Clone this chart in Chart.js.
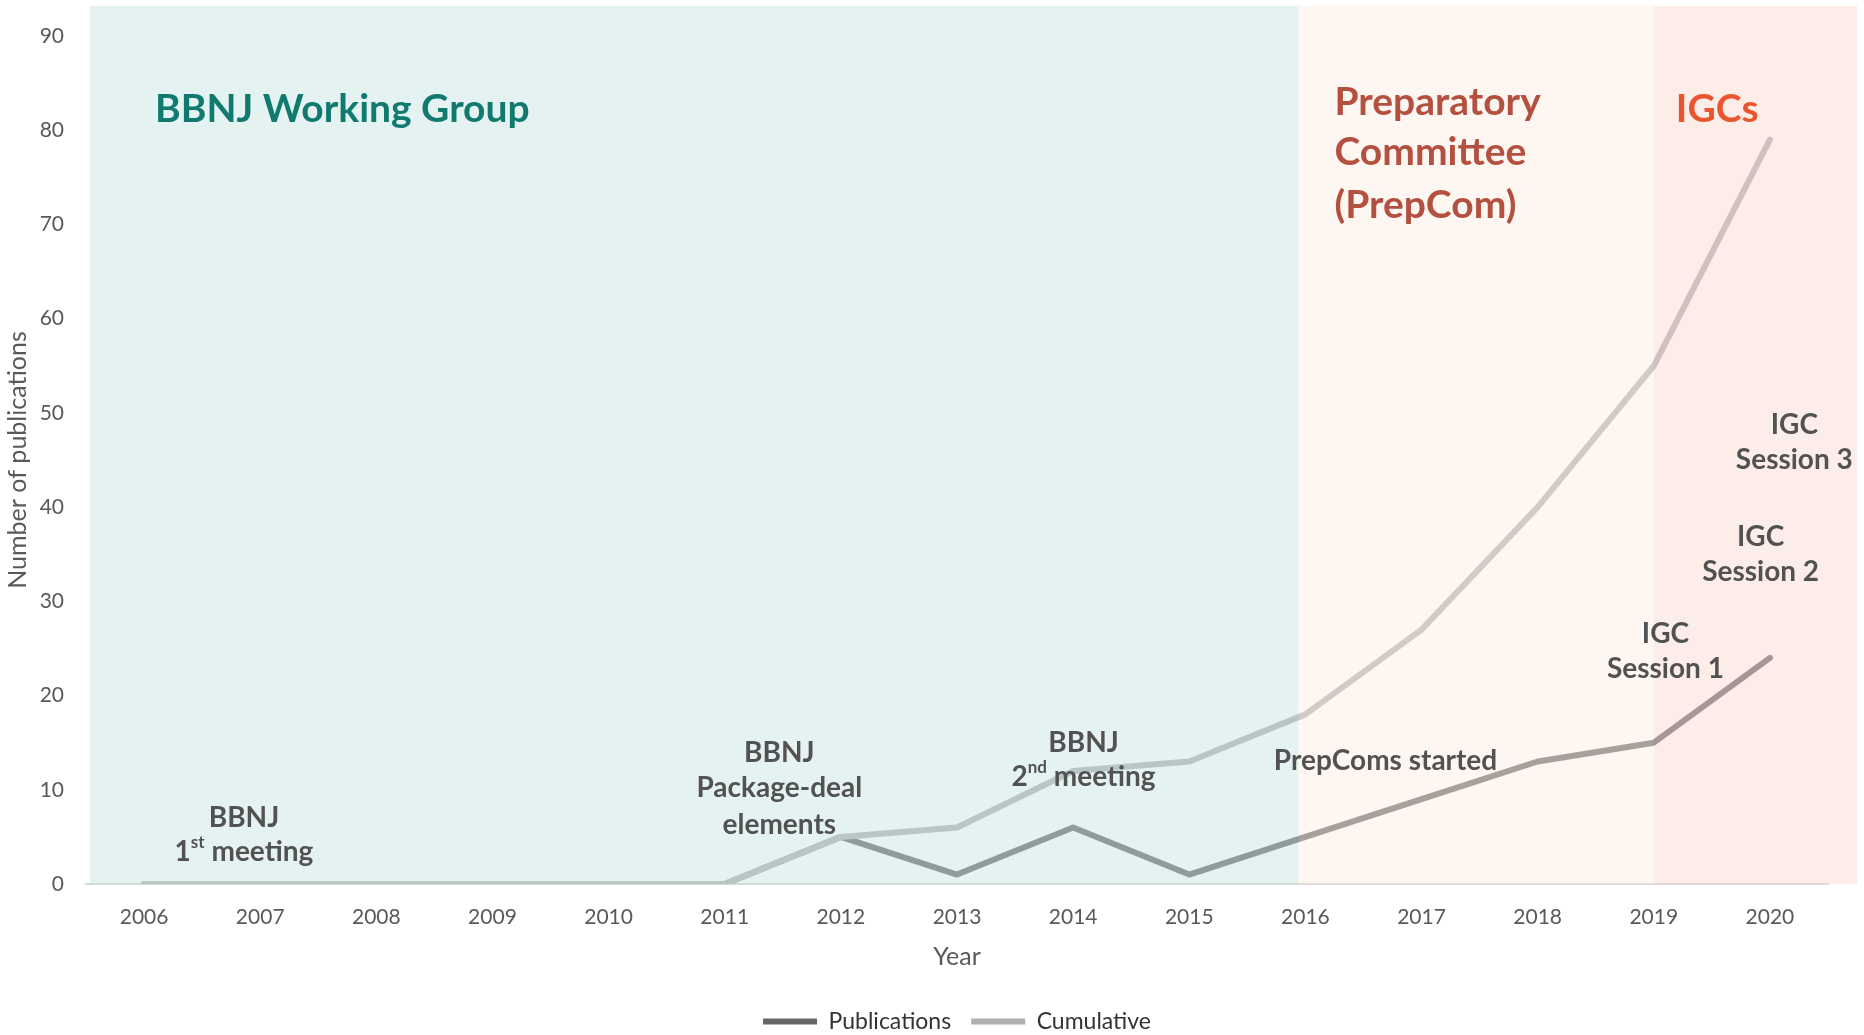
<!DOCTYPE html>
<html>
<head>
<meta charset="utf-8">
<script src="https://cdn.jsdelivr.net/npm/chart.js@4.4.1/dist/chart.umd.min.js"></script>
<style>
    html, body { margin: 0; padding: 0; background: #fff; }
    #wrap { width: 1864px; height: 1035px; position: relative; }
</style>
</head>
<body>
<div id="wrap"><canvas id="pubChart"></canvas></div>
<script>
const years = ["2006", "2007", "2008", "2009", "2010", "2011", "2012", "2013", "2014", "2015", "2016", "2017", "2018", "2019", "2020"];
const publications = [0, 0, 0, 0, 0, 0, 5, 1, 6, 1, 5, 9, 13, 15, 24];
const cumulative = [0, 0, 0, 0, 0, 0, 5, 6, 12, 13, 18, 27, 40, 55, 79];
const yMax = 90;
const yStep = 10;

const FONT = "Lato, 'Open Sans', sans-serif";

// negotiation phases, in category units (fractional index along the year axis)
const phases = [
    { from: -0.465, to: 9.94, color: "rgba(193,225,222,0.44)" },
    { from: 9.94, to: 13, color: "rgba(250,234,223,0.44)" },
    { from: 13, to: 14.75, color: "rgba(250,214,202,0.44)" }
];
const phaseTop = 93.2;

const phaseTitles = [
    { lines: ["BBNJ Working Group"], x: 0.095, y: [82.2], color: "#117a6f" },
    { lines: ["Preparatory", "Committee", "(PrepCom)"], x: 10.25, y: [83.0, 77.6, 72.0], color: "#b4503f" },
    { lines: ["IGCs"], x: 13.19, y: [82.2], color: "#ea5530" }
];

// milestone notes; each line is a list of [text, superscript?]
const milestones = [
    { x: 0.86, y: [7.0, 3.4], lines: [[["BBNJ"]], [["1"], ["st", true], [" meeting"]]] },
    { x: 5.47, y: [13.9, 10.2, 6.3], lines: [[["BBNJ"]], [["Package-deal"]], [["elements"]]] },
    { x: 8.09, y: [15.0, 11.4], lines: [[["BBNJ"]], [["2"], ["nd", true], [" meeting"]]] },
    { x: 10.69, y: [13.1], lines: [[["PrepComs started"]]] },
    { x: 13.10, y: [26.5, 22.8], lines: [[["IGC"]], [["Session 1"]]] },
    { x: 13.92, y: [36.8, 33.1], lines: [[["IGC"]], [["Session 2"]]] },
    { x: 14.21, y: [48.7, 45.0], lines: [[["IGC"]], [["Session 3"]]] }
];

function drawRichLine(ctx, parts, cx, cy, size) {
    const fonts = parts.map(p => `bold ${p[1] ? Math.round(size * 0.62) : size}px ${FONT}`);
    let total = 0;
    parts.forEach((p, i) => { ctx.font = fonts[i]; total += ctx.measureText(p[0]).width; });
    let x = cx - total / 2;
    parts.forEach((p, i) => {
        ctx.font = fonts[i];
        ctx.fillText(p[0], x, p[1] ? cy - size * 0.32 : cy);
        x += ctx.measureText(p[0]).width;
    });
}

const phasePlugin = {
    id: "phases",
    afterLayout(chart) {
        // centre the legend under the plot area rather than the canvas
        chart.legend.left = chart.chartArea.left;
        chart.legend.right = chart.chartArea.right;
    },
    afterDatasetsDraw(chart) {
        const { ctx, scales: { x, y }, chartArea } = chart;
        ctx.save();
        phases.forEach(p => {
            const x0 = x.getPixelForValue(p.from);
            const x1 = x.getPixelForValue(p.to);
            const top = y.getPixelForValue(phaseTop);
            ctx.fillStyle = p.color;
            ctx.fillRect(x0, top, x1 - x0, chartArea.bottom - top);
        });
        ctx.restore();
    },
    afterDraw(chart) {
        const { ctx, scales: { x, y } } = chart;
        ctx.save();
        ctx.textBaseline = "middle";
        ctx.textAlign = "left";
        phaseTitles.forEach(t => {
            ctx.fillStyle = t.color;
            ctx.font = `bold 39px ${FONT}`;
            t.lines.forEach((line, i) => {
                ctx.fillText(line, x.getPixelForValue(t.x), y.getPixelForValue(t.y[i]));
            });
        });
        ctx.fillStyle = "#525252";
        milestones.forEach(m => {
            m.lines.forEach((parts, i) => {
                drawRichLine(ctx, parts, x.getPixelForValue(m.x), y.getPixelForValue(m.y[i]), 28);
            });
        });
        ctx.restore();
    }
};

new Chart(document.getElementById("pubChart"), {
    type: "line",
    data: {
        labels: years,
        datasets: [
            {
                label: "Publications",
                data: publications,
                borderColor: "#666666",
                backgroundColor: "#666666",
                borderWidth: 6,
                borderCapStyle: "round",
                borderJoinStyle: "round",
                pointRadius: 0,
                tension: 0,
                order: 1
            },
            {
                label: "Cumulative",
                data: cumulative,
                borderColor: "#b0b0b0",
                backgroundColor: "#b0b0b0",
                borderWidth: 6,
                borderCapStyle: "round",
                borderJoinStyle: "round",
                pointRadius: 0,
                tension: 0,
                order: 0
            }
        ]
    },
    options: {
        responsive: true,
        maintainAspectRatio: false,
        animation: false,
        layout: { padding: { top: 36, right: 36, left: 0, bottom: -8 } },
        plugins: {
            legend: {
                position: "bottom",
                labels: {
                    usePointStyle: true,
                    pointStyle: "line",
                    pointStyleWidth: 54,
                    padding: 20,
                    color: "#333333",
                    font: { family: FONT, size: 23 },
                    sort: (a, b) => a.datasetIndex - b.datasetIndex
                }
            },
            tooltip: { enabled: false }
        },
        scales: {
            x: {
                offset: true,
                grid: { display: false, drawTicks: false },
                border: { display: true, color: "#d9d9d9", width: 2 },
                ticks: { color: "#595959", font: { family: FONT, size: 21 }, padding: 21, maxRotation: 0 },
                title: { display: true, text: "Year", color: "#595959", font: { family: FONT, size: 25 }, padding: { top: 0, bottom: 18 } },
                afterFit: s => { s.height = 106; }
            },
            y: {
                min: 0,
                max: yMax,
                grid: { display: false, drawTicks: false },
                border: { display: false },
                ticks: { stepSize: yStep, color: "#595959", font: { family: FONT, size: 21 }, padding: 22 },
                title: { display: true, text: "Number of publications", color: "#595959", font: { family: FONT, size: 25 }, padding: { top: 3, bottom: 0 } },
                afterFit: s => { s.width = 86; }
            }
        }
    },
    plugins: [phasePlugin]
});
</script>
</body>
</html>
